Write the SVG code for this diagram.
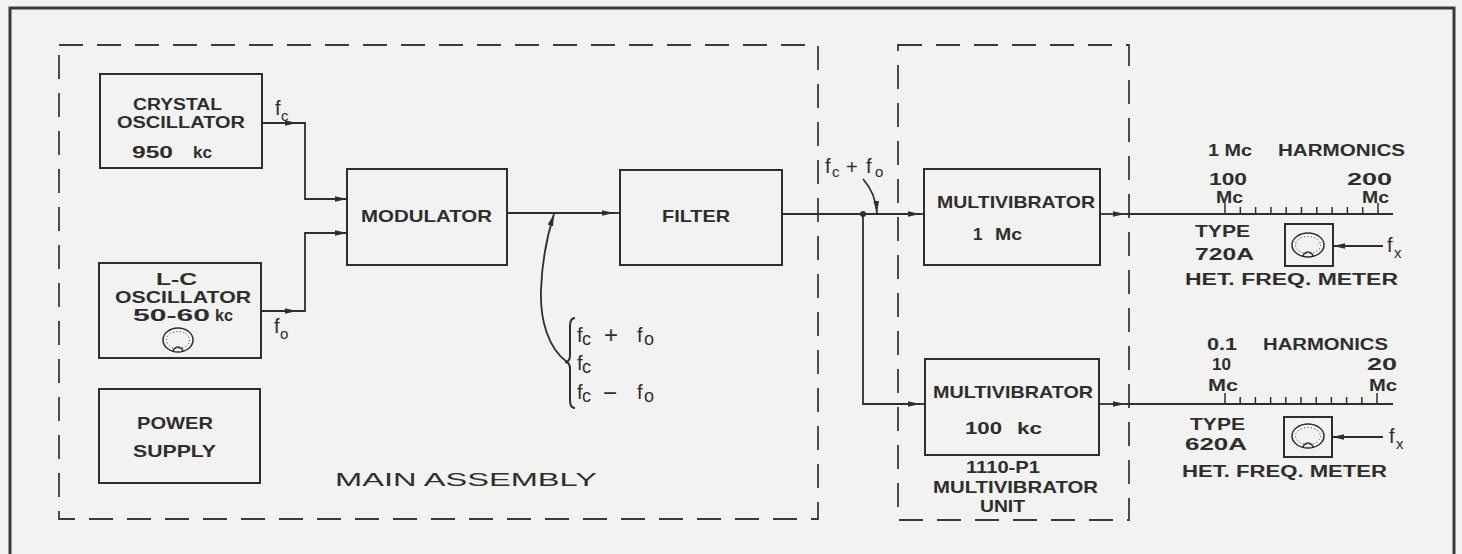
<svg xmlns="http://www.w3.org/2000/svg" width="1462" height="554" viewBox="0 0 1462 554">
<defs>
<marker id="arr" markerUnits="userSpaceOnUse" markerWidth="12" markerHeight="8" refX="12" refY="4" orient="auto">
<path d="M0,1.2 L12,4 L0,6.8 z" fill="#2e2e2e"/>
</marker>
</defs>
<style>
.bg{fill:#f2f2f0}
.frame{fill:none;stroke:#3a3a3a;stroke-width:3}
.dash{fill:none;stroke:#3a3a3a;stroke-width:1.8;stroke-dasharray:24 14}
.box{fill:none;stroke:#2e2e2e;stroke-width:2}
.ln{fill:none;stroke:#2e2e2e;stroke-width:1.8}
.arw{fill:none;stroke:#2e2e2e;stroke-width:1.8;marker-end:url(#arr)}
.t{font-family:"Liberation Sans",Arial,sans-serif;font-weight:bold;font-size:17px;fill:#2e2e2e}
.s{font-family:"Liberation Sans",Arial,sans-serif;font-weight:bold;font-size:16px;fill:#2e2e2e}
.m{font-family:"Liberation Sans",Arial,sans-serif;font-size:20px;fill:#2e2e2e}
.ms{font-family:"Liberation Sans",Arial,sans-serif;font-size:15px;fill:#2e2e2e}
.dot{fill:none;stroke:#2e2e2e;stroke-width:1;stroke-dasharray:1 2.5}
</style>
<rect class="bg" x="0" y="0" width="1462" height="554"/>
<rect class="frame" x="10" y="8" width="1444" height="560"/>

<g id="main-assembly">
<rect class="dash" x="59" y="45" width="759" height="474"/>
<text class="t" x="335" y="486" textLength="262" lengthAdjust="spacingAndGlyphs" style="font-weight:normal;font-size:19px">MAIN  ASSEMBLY</text>
</g>
<g id="multivibrator-unit">
<rect class="dash" x="898" y="45" width="231" height="475"/>
<text class="t" x="966" y="473" textLength="74" lengthAdjust="spacingAndGlyphs">1110-P1</text>
<text class="t" x="933" y="493" textLength="165" lengthAdjust="spacingAndGlyphs">MULTIVIBRATOR</text>
<text class="t" x="980" y="512" textLength="45" lengthAdjust="spacingAndGlyphs">UNIT</text>
</g>

<g id="crystal-oscillator">
<rect class="box" x="100" y="74" width="162" height="94"/>
<text class="t" x="133" y="110" textLength="89" lengthAdjust="spacingAndGlyphs" style="font-size:16px">CRYSTAL</text>
<text class="t" x="117" y="128" textLength="128" lengthAdjust="spacingAndGlyphs" style="font-size:16px">OSCILLATOR</text>
<text class="t" x="132" y="158" textLength="41" lengthAdjust="spacingAndGlyphs">950</text>
<text class="t" x="193" y="158" textLength="19" lengthAdjust="spacingAndGlyphs">kc</text>
</g>

<g id="lc-oscillator">
<rect class="box" x="99" y="263" width="162" height="95"/>
<text class="t" x="156" y="285" textLength="41" lengthAdjust="spacingAndGlyphs">L-C</text>
<text class="t" x="115" y="303" textLength="136" lengthAdjust="spacingAndGlyphs">OSCILLATOR</text>
<text class="t" x="133" y="321" textLength="77" lengthAdjust="spacingAndGlyphs">50-60</text>
<text class="t" x="215" y="321" textLength="18" lengthAdjust="spacingAndGlyphs">kc</text>
<ellipse class="box" cx="178" cy="340" rx="15" ry="12" style="stroke-width:1.5"/>
<ellipse class="dot" cx="178" cy="340" rx="11.5" ry="8.5"/>
<path class="ln" d="M173,352 A5,5 0 0 1 183,352" style="stroke-width:1.5"/>
</g>

<g id="power-supply">
<rect class="box" x="99" y="389" width="161" height="94"/>
<text class="t" x="137" y="429" textLength="76" lengthAdjust="spacingAndGlyphs">POWER</text>
<text class="t" x="133" y="457" textLength="83" lengthAdjust="spacingAndGlyphs">SUPPLY</text>
</g>

<g id="modulator">
<rect class="box" x="347" y="169" width="160" height="96"/>
<text class="t" x="361" y="222" textLength="131" lengthAdjust="spacingAndGlyphs">MODULATOR</text>
</g>

<g id="filter">
<rect class="box" x="620" y="170" width="162" height="95"/>
<text class="t" x="662" y="222" textLength="68" lengthAdjust="spacingAndGlyphs">FILTER</text>
</g>

<g id="multivibrator-1mc">
<rect class="box" x="924" y="169" width="176" height="96"/>
<text class="t" x="937" y="208" textLength="158" lengthAdjust="spacingAndGlyphs">MULTIVIBRATOR</text>
<text class="t" x="973" y="240">1</text>
<text class="t" x="995" y="240" textLength="27" lengthAdjust="spacingAndGlyphs">Mc</text>
</g>

<g id="multivibrator-100kc">
<rect class="box" x="925" y="359" width="174" height="96"/>
<text class="t" x="933" y="398" textLength="160" lengthAdjust="spacingAndGlyphs">MULTIVIBRATOR</text>
<text class="t" x="965" y="434" textLength="37" lengthAdjust="spacingAndGlyphs">100</text>
<text class="t" x="1017" y="434" textLength="25" lengthAdjust="spacingAndGlyphs">kc</text>
</g>

<g id="meter-720a">
<text class="s" x="1208" y="156" textLength="44" lengthAdjust="spacingAndGlyphs">1 Mc</text>
<text class="s" x="1278" y="156" textLength="127" lengthAdjust="spacingAndGlyphs">HARMONICS</text>
<text class="s" x="1209" y="185" textLength="38" lengthAdjust="spacingAndGlyphs">100</text>
<text class="s" x="1216" y="203" textLength="27" lengthAdjust="spacingAndGlyphs">Mc</text>
<text class="s" x="1347" y="185" textLength="45" lengthAdjust="spacingAndGlyphs">200</text>
<text class="s" x="1362" y="203" textLength="27" lengthAdjust="spacingAndGlyphs">Mc</text>
<path class="ln" d="M1225,214 v-11 M1240.3,214 v-7 M1255.6,214 v-7 M1270.9,214 v-7 M1286.2,214 v-7 M1301.5,214 v-7 M1316.8,214 v-7 M1332.1,214 v-7 M1347.4,214 v-7 M1362.7,214 v-7 M1378,214 v-11" style="stroke-width:1.5"/>
<text class="t" x="1195" y="237" textLength="55" lengthAdjust="spacingAndGlyphs">TYPE</text>
<text class="t" x="1195" y="260" textLength="59" lengthAdjust="spacingAndGlyphs">720A</text>
<text class="s" x="1185" y="285" textLength="213" lengthAdjust="spacingAndGlyphs">HET.  FREQ.  METER</text>
<rect class="box" x="1285" y="224" width="48" height="42"/>
<ellipse class="box" cx="1308" cy="245" rx="16" ry="12" style="stroke-width:1.5"/>
<ellipse class="dot" cx="1308" cy="245" rx="12.5" ry="8.5"/>
<path class="ln" d="M1303,257 A5,5 0 0 1 1313,257" style="stroke-width:1.5"/>
<text class="m" x="1387" y="252">f</text>
<text class="ms" x="1394" y="258">x</text>
</g>

<g id="meter-620a">
<text class="s" x="1207" y="350" textLength="30" lengthAdjust="spacingAndGlyphs">0.1</text>
<text class="s" x="1263" y="350" textLength="125" lengthAdjust="spacingAndGlyphs">HARMONICS</text>
<text class="s" x="1212" y="370" textLength="19" lengthAdjust="spacingAndGlyphs">10</text>
<text class="s" x="1367" y="370" textLength="30" lengthAdjust="spacingAndGlyphs">20</text>
<text class="s" x="1208" y="391" textLength="30" lengthAdjust="spacingAndGlyphs">Mc</text>
<text class="s" x="1369" y="391" textLength="28" lengthAdjust="spacingAndGlyphs">Mc</text>
<path class="ln" d="M1225,404 v-11 M1240.2,404 v-7 M1255.4,404 v-7 M1270.6,404 v-7 M1285.8,404 v-7 M1301,404 v-7 M1316.2,404 v-7 M1331.4,404 v-7 M1346.6,404 v-7 M1361.8,404 v-7 M1377,404 v-11" style="stroke-width:1.5"/>
<text class="t" x="1190" y="430" textLength="55" lengthAdjust="spacingAndGlyphs">TYPE</text>
<text class="t" x="1185" y="450" textLength="62" lengthAdjust="spacingAndGlyphs">620A</text>
<text class="s" x="1182" y="477" textLength="205" lengthAdjust="spacingAndGlyphs">HET.  FREQ. METER</text>
<rect class="box" x="1284" y="417" width="48" height="40"/>
<ellipse class="box" cx="1308" cy="436" rx="16" ry="12" style="stroke-width:1.5"/>
<ellipse class="dot" cx="1308" cy="436" rx="12.5" ry="8.5"/>
<path class="ln" d="M1303,448 A5,5 0 0 1 1313,448" style="stroke-width:1.5"/>
<text class="m" x="1389" y="443">f</text>
<text class="ms" x="1396" y="449">x</text>
</g>

<g id="connectors">
<path class="arw" d="M262,123 H297"/>
<path class="arw" d="M297,123 H305 V199 H347"/>
<path class="arw" d="M261,311 H297"/>
<path class="arw" d="M297,311 H305 V233 H347"/>
<path class="arw" d="M507,213 H614"/>
<path class="ln" d="M614,213 H620"/>
<path class="arw" d="M567,362 C548,348 540,320 541,290 C542,262 547,236 554,214"/>
<path class="ln" d="M575,318 C571,318 570,321 570,326 V355 C570,359 569,362 565,362 C569,362 570,365 570,369 V400 C570,405 571,408 575,408" style="stroke-width:2"/>
<path class="arw" d="M782,214 H920"/>
<path class="ln" d="M920,214 H924"/>
<circle cx="863" cy="214" r="3" fill="#2e2e2e"/>
<path class="arw" d="M863,214 V404 H920"/>
<path class="ln" d="M920,404 H925"/>
<path class="arw" d="M863,179 C871,188 876,198 877,213"/>
<path class="arw" d="M1100,214 H1125"/>
<path class="ln" d="M1125,214 H1393"/>
<path class="arw" d="M1099,404 H1125"/>
<path class="ln" d="M1125,404 H1393"/>
<path class="arw" d="M1383,246 H1333"/>
<path class="arw" d="M1383,437 H1332"/>
</g>

<g id="signal-labels">
<text class="m" x="275" y="115">f</text>
<text class="ms" x="281" y="121">c</text>
<text class="m" x="274" y="333">f</text>
<text class="ms" x="280" y="339">o</text>
<text class="m" x="825" y="173">f</text>
<text class="ms" x="832" y="177">c</text>
<text class="m" x="846" y="174">+</text>
<text class="m" x="866" y="173">f</text>
<text class="ms" x="875" y="177">o</text>
<text class="m" x="577" y="342">f</text>
<text class="m" x="582" y="345" style="font-size:18px">c</text>
<text class="m" x="604" y="343" style="font-size:24px">+</text>
<text class="m" x="637" y="342">f</text>
<text class="m" x="644" y="345" style="font-size:18px">o</text>
<text class="m" x="577" y="370">f</text>
<text class="m" x="582" y="373" style="font-size:18px">c</text>
<text class="m" x="577" y="399">f</text>
<text class="m" x="582" y="402" style="font-size:18px">c</text>
<text class="m" x="603" y="401" style="font-size:24px">−</text>
<text class="m" x="637" y="399">f</text>
<text class="m" x="644" y="402" style="font-size:18px">o</text>
</g>
</svg>
